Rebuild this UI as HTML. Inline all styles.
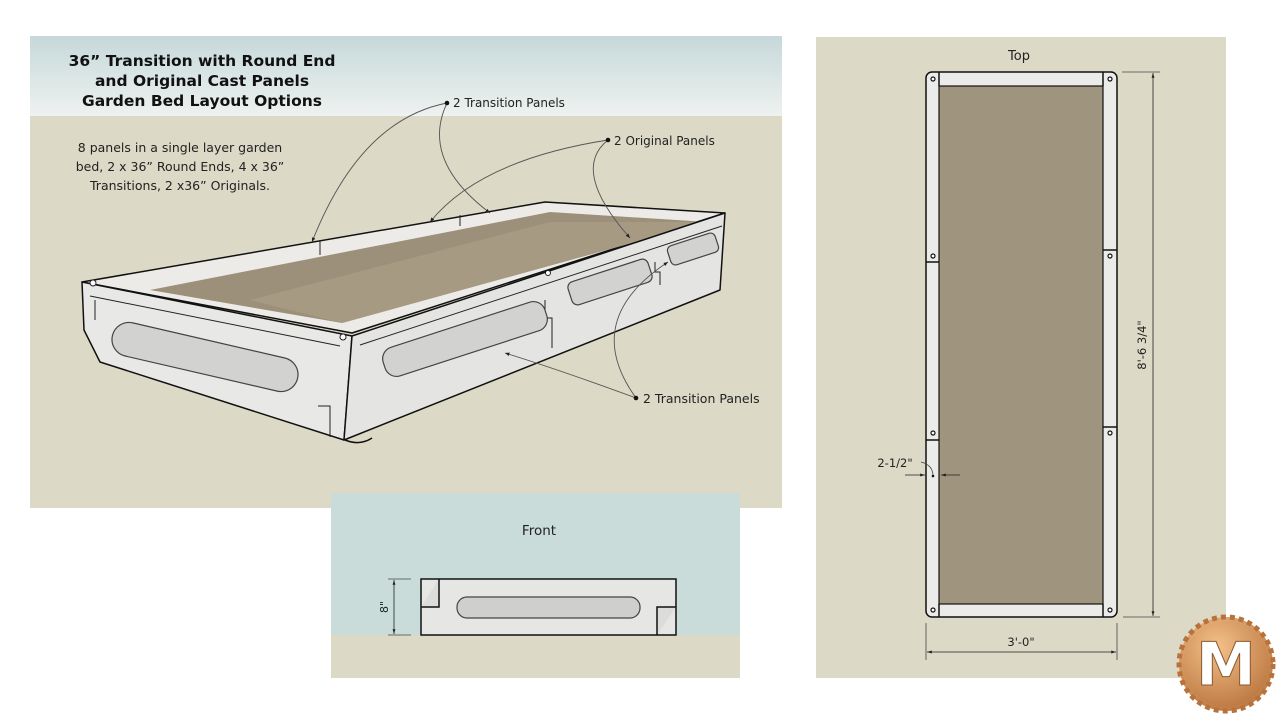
<!DOCTYPE html>
<html><head><meta charset="utf-8"><style>
html,body{margin:0;padding:0;background:#fff;width:1280px;height:720px;overflow:hidden}
svg{display:block}
text{font-family:"DejaVu Sans","Liberation Sans",sans-serif}
</style></head><body>
<svg width="1280" height="720" viewBox="0 0 1280 720" xmlns="http://www.w3.org/2000/svg">
<defs>
<linearGradient id="hdr" x1="0" y1="0" x2="0" y2="1"><stop offset="0" stop-color="#c6d8da"/><stop offset="1" stop-color="#eef2f0"/></linearGradient>
<radialGradient id="logo" cx="0.4" cy="0.3" r="0.8"><stop offset="0" stop-color="#f4c08a"/><stop offset="1" stop-color="#b8733c"/></radialGradient>
<marker id="ar" viewBox="0 0 10 10" refX="10" refY="5" markerWidth="8" markerHeight="6" orient="auto-start-reverse"><path d="M0,2 L10,5 L0,8z" fill="#222"/></marker>
<marker id="sm" viewBox="0 0 10 10" refX="10" refY="5" markerWidth="5" markerHeight="5" orient="auto"><path d="M0,1 L10,5 L0,9z" fill="#222"/></marker>
</defs>

<!-- Left panel -->
<rect x="30" y="36" width="752" height="472" fill="#dcd9c6"/>
<rect x="30" y="36" width="752" height="80" fill="url(#hdr)"/>
<text x="202" y="66" font-size="15.5" font-weight="bold" text-anchor="middle" fill="#111">36” Transition with Round End</text>
<text x="202" y="86" font-size="15.5" font-weight="bold" text-anchor="middle" fill="#111">and Original Cast Panels</text>
<text x="202" y="106" font-size="15.5" font-weight="bold" text-anchor="middle" fill="#111">Garden Bed Layout Options</text>
<text x="180" y="152" font-size="12.5" text-anchor="middle" fill="#222">8 panels in a single layer garden</text>
<text x="180" y="171" font-size="12.5" text-anchor="middle" fill="#222">bed, 2 x 36” Round Ends, 4 x 36”</text>
<text x="180" y="190" font-size="12.5" text-anchor="middle" fill="#222">Transitions, 2 x36” Originals.</text>

<!-- 3D box -->
<g stroke="#111" stroke-width="1.5" stroke-linejoin="round">
  <!-- top rim -->
  <polygon points="82,282 545,202 725,213 352,333" fill="#ecebe8"/>
  <!-- soil -->
  <polygon points="150,290 550,212 708,222 342,323" fill="#9d907a" stroke="none"/>
  <polygon points="250,300 550,222 708,222 342,323" fill="#a69a83" stroke="none"/>
  <!-- left face -->
  <polygon points="82,282 352,336 344,440 100,362 84,330" fill="#e8e8e6"/>
  <!-- right long face -->
  <polygon points="352,336 725,213 720,290 344,440" fill="#e4e4e2"/>
  <path d="M345,440 Q360,446 372,438" fill="none"/>
</g>
<g stroke="#222" stroke-width="1" fill="none">
  <line x1="90" y1="296" x2="340" y2="346"/>
  <line x1="360" y1="345" x2="722" y2="226"/>
  <path d="M318,406 L330,406 L330,437"/>
  <path d="M545,300 L545,318 L552,318 L552,348"/>
  <path d="M655,262 L655,272 L660,272 L660,285"/>
  <line x1="95" y1="300" x2="95" y2="320"/>
  <line x1="320" y1="240" x2="320" y2="255"/>
  <line x1="460" y1="215" x2="460" y2="226"/>
</g>
<!-- slots -->
<g fill="#d2d2d0" stroke="#444" stroke-width="1.2">
  <rect x="-95" y="-17" width="190" height="34" rx="17" transform="translate(205,357) rotate(13)"/>
  <rect x="-85" y="-15" width="170" height="30" rx="12" transform="translate(465,339) rotate(-18)"/>
  <rect x="-42" y="-12" width="84" height="24" rx="6" transform="translate(610,282) rotate(-18)"/>
  <rect x="-25" y="-10" width="50" height="20" rx="5" transform="translate(693,249) rotate(-18)"/>
</g>
<circle cx="343" cy="337" r="3" fill="#fff" stroke="#222"/>
<circle cx="93" cy="283" r="3" fill="#fff" stroke="#222"/>
<circle cx="548" cy="273" r="2.5" fill="#fff" stroke="#222"/>

<!-- leaders -->
<g stroke="#555" stroke-width="0.9" fill="none">
  <path d="M447,103 Q360,120 312,242" marker-end="url(#sm)"/>
  <path d="M447,103 Q420,160 490,213" marker-end="url(#sm)"/>
  <path d="M608,140 Q480,160 430,222" marker-end="url(#sm)"/>
  <path d="M608,140 Q570,170 630,238" marker-end="url(#sm)"/>
  <path d="M636,398 Q560,370 505,353" marker-end="url(#sm)"/>
  <path d="M636,398 Q580,320 668,262" marker-end="url(#sm)"/>
</g>
<circle cx="447" cy="103" r="2.3" fill="#111"/><circle cx="608" cy="140" r="2.3" fill="#111"/><circle cx="636" cy="398" r="2.3" fill="#111"/>
<text x="453" y="107" font-size="12" fill="#222">2 Transition Panels</text>
<text x="614" y="145" font-size="12" fill="#222">2 Original Panels</text>
<text x="643" y="403" font-size="12.5" fill="#222">2 Transition Panels</text>

<!-- Front panel -->
<rect x="331" y="493" width="409" height="185" fill="#dcd9c6"/>
<rect x="331" y="493" width="409" height="142" fill="#c9dcda"/>
<text x="539" y="535" font-size="13.5" text-anchor="middle" fill="#222">Front</text>
<rect x="421" y="579" width="255" height="56" fill="#e6e6e4" stroke="#111" stroke-width="1.5"/>
<path d="M421,607 L439,607 L439,579" fill="#dcdcda" stroke="#111" stroke-width="1.5"/>
<path d="M676,607 L657,607 L657,635" fill="#dcdcda" stroke="#111" stroke-width="1.5"/>
<rect x="457" y="597" width="183" height="21" rx="10" fill="#cfcfcd" stroke="#444" stroke-width="1.2"/>
<line x1="388" y1="579" x2="411" y2="579" stroke="#444" stroke-width="0.8"/>
<line x1="388" y1="635" x2="411" y2="635" stroke="#444" stroke-width="0.8"/>
<line x1="394" y1="580" x2="394" y2="634" stroke="#222" stroke-width="0.8" marker-start="url(#ar)" marker-end="url(#ar)"/>
<text transform="translate(388,607) rotate(-90)" font-size="11" text-anchor="middle" fill="#222">8"</text>

<!-- Right panel -->
<rect x="816" y="37" width="410" height="641" fill="#dcd9c6"/>
<text x="1019" y="60" font-size="13" text-anchor="middle" fill="#222">Top</text>
<rect x="926" y="72" width="191" height="545" rx="6" fill="#ebebe9" stroke="#111" stroke-width="1.5"/>
<rect x="939" y="86" width="164" height="518" fill="#9f947d" stroke="#111" stroke-width="1.2"/>
<g stroke="#111" stroke-width="1.5">
  <line x1="939" y1="72" x2="939" y2="86"/><line x1="1103" y1="72" x2="1103" y2="86"/>
  <line x1="939" y1="604" x2="939" y2="617"/><line x1="1103" y1="604" x2="1103" y2="617"/>
  <line x1="926" y1="262" x2="939" y2="262"/><line x1="926" y1="440" x2="939" y2="440"/>
  <line x1="1103" y1="250" x2="1117" y2="250"/><line x1="1103" y1="427" x2="1117" y2="427"/>
</g>
<g fill="#fff" stroke="#111" stroke-width="1.2">
  <circle cx="933" cy="79" r="2"/><circle cx="1110" cy="79" r="2"/>
  <circle cx="933" cy="610" r="2"/><circle cx="1110" cy="610" r="2"/>
  <circle cx="933" cy="256" r="2"/><circle cx="1110" cy="256" r="2"/>
  <circle cx="933" cy="433" r="2"/><circle cx="1110" cy="433" r="2"/>
</g>
<g stroke="#444" stroke-width="0.8" fill="none">
  <line x1="1122" y1="72" x2="1160" y2="72"/><line x1="1123" y1="617" x2="1160" y2="617"/>
  <line x1="926" y1="623" x2="926" y2="660"/><line x1="1117" y1="623" x2="1117" y2="660"/>
</g>
<line x1="1153" y1="73" x2="1153" y2="616" stroke="#222" stroke-width="0.8" marker-start="url(#ar)" marker-end="url(#ar)"/>
<text transform="translate(1146,345) rotate(-90)" font-size="11.5" text-anchor="middle" fill="#222">8'-6 3/4"</text>
<line x1="927" y1="652" x2="1116" y2="652" stroke="#222" stroke-width="0.8" marker-start="url(#ar)" marker-end="url(#ar)"/>
<text x="1021" y="646" font-size="11.5" text-anchor="middle" fill="#222">3'-0"</text>
<text x="895" y="467" font-size="11.5" text-anchor="middle" fill="#222">2-1/2"</text>
<line x1="905" y1="475" x2="925" y2="475" stroke="#222" stroke-width="0.8" marker-end="url(#ar)"/>
<line x1="960" y1="475" x2="941" y2="475" stroke="#222" stroke-width="0.8" marker-end="url(#ar)"/>
<path d="M921,462 Q933,465 933,476" fill="none" stroke="#444" stroke-width="0.8"/>
<circle cx="933" cy="476" r="1.3" fill="#111"/>

<!-- Logo -->
<g transform="translate(1226,664)">
  <circle r="47" fill="url(#logo)" stroke="#b8733c" stroke-width="5" stroke-dasharray="5 4"/>
  <circle r="43" fill="url(#logo)"/>
  <text x="0" y="21" font-family="Liberation Serif,serif" font-size="60" font-weight="bold" text-anchor="middle" fill="#fff" stroke="#8a5a30" stroke-width="1">M</text>
</g>
</svg>
</body></html>
